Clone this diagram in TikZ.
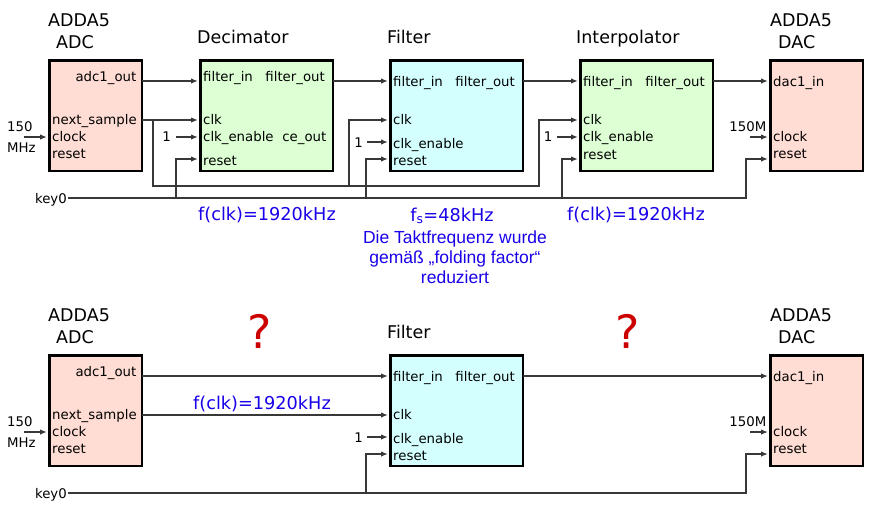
\documentclass[tikz,border=0pt]{standalone}
\usepackage{fontspec}
\setmainfont{DejaVu Sans}
\newfontfamily\libsans{Liberation Sans}
\usetikzlibrary{arrows.meta}
\definecolor{salmon}{RGB}{255,221,212}
\definecolor{lgreen}{RGB}{221,255,212}
\definecolor{lcyan}{RGB}{212,255,255}
\definecolor{wirec}{RGB}{56,56,56}
\definecolor{noteblue}{RGB}{24,0,232}
\definecolor{qred}{RGB}{204,0,0}
\begin{document}
\begin{tikzpicture}[x=1pt,y=-1pt,
  blk/.style={draw=black,line width=2.8pt,anchor=north west,inner sep=0,minimum height=110.2pt},
  smallblk/.style={blk,minimum width=92.2pt},
  bigblk/.style={blk,minimum width=132.2pt},
  lbl/.style={font=\fontsize{13.3}{16}\selectfont,inner sep=0},
  lw/.style={lbl,anchor=base west},
  le/.style={lbl,anchor=base east},
  ttl/.style={font=\fontsize{17.5}{21}\selectfont,inner sep=0,anchor=base west},
  note/.style={font=\fontsize{17.7}{21}\selectfont,inner sep=0,anchor=base,text=noteblue},
  gnote/.style={font=\libsans\fontsize{17.5}{20}\selectfont,inner sep=0,anchor=base,text=noteblue},
  qmark/.style={font=\fontsize{46}{50}\selectfont,inner sep=0,anchor=base,text=qred},
  wire/.style={draw=wirec,line width=1.4pt},
  arr/.style={wire,-{Latex[length=7pt,width=5.5pt]}}]
\useasboundingbox (0,0) rectangle (872,504);

% ================= TOP ROW =================
\node[smallblk,fill=salmon] (adc) at (48.4,59.4) {};
\node[bigblk,fill=lgreen] (dec) at (199.4,59.4) {};
\node[bigblk,fill=lcyan] (fil) at (389.4,59.4) {};
\node[bigblk,fill=lgreen] (int) at (579.4,59.4) {};
\node[smallblk,fill=salmon] (dac) at (769.4,59.4) {};

% titles
\node[ttl] (t1) at (48,26) {ADDA5};
\node[ttl] (t2) at (56,48) {ADC};
\node[ttl] (t3) at (197,43) {Decimator};
\node[ttl] (t4) at (387,43) {Filter};
\node[ttl] (t5) at (576,43) {Interpolator};
\node[ttl] (t6) at (770,26) {ADDA5};
\node[ttl] (t7) at (778,48) {DAC};

% ADC labels
\node[le] (a1) at (136.5,81) {adc1\_out};
\node[lw] (a2) at (52,124.5) {next\_sample};
\node[lw] (a3) at (52,141.5) {clock};
\node[lw] (a4) at (52,158) {reset};
\node[lw] (a5) at (7,131) {150};
\node[lw] (a6) at (7,152) {MHz};
\node[le] (k0) at (67,203) {key0};

% Decimator labels
\node[lw] (d1) at (203,81.5) {filter\_in};
\node[le] (d2) at (325,81.5) {filter\_out};
\node[lw] (d3) at (203,124) {clk};
\node[lw] (d4) at (203,141.7) {clk\_enable};
\node[le] (d5) at (326.5,141.7) {ce\_out};
\node[lw] (d6) at (203,165) {reset};
\node[le] (one1) at (171,141.5) {1};

% Filter labels
\node[lw] (f1) at (393,86.5) {filter\_in};
\node[le] (f2) at (515,86.5) {filter\_out};
\node[lw] (f3) at (393,124) {clk};
\node[lw] (f4) at (393,148) {clk\_enable};
\node[lw] (f5) at (393,165) {reset};
\node[le] (one2) at (363,147.5) {1};

% Interpolator labels
\node[lw] (i1) at (583,86.5) {filter\_in};
\node[le] (i2) at (705,86.5) {filter\_out};
\node[lw] (i3) at (583,124) {clk};
\node[lw] (i4) at (583,141.7) {clk\_enable};
\node[lw] (i5) at (583,159) {reset};
\node[le] (one3) at (552.5,141.5) {1};

% DAC labels
\node[lw] (c1) at (773,86) {dac1\_in};
\node[lw] (c2) at (773,141.7) {clock};
\node[lw] (c3) at (773,158.3) {reset};
\node[le] (c4) at (766.5,131) {150M};

% ports (top)
\coordinate (adcOut) at (142,81);
\coordinate (adcNs) at (142,120);
\coordinate (adcClk) at (47,137);
\coordinate (adcSrc) at (24,137);
\coordinate (decIn) at (198,81);
\coordinate (decClk) at (198,120);
\coordinate (decCe) at (198,137);
\coordinate (decRst) at (198,159);
\coordinate (decOut) at (333,81);
\coordinate (filIn) at (388,81);
\coordinate (filClk) at (388,120);
\coordinate (filCe) at (388,142);
\coordinate (filRst) at (388,159);
\coordinate (filOut) at (523,81);
\coordinate (intIn) at (578,81);
\coordinate (intClk) at (578,120);
\coordinate (intCe) at (578,137);
\coordinate (intRst) at (578,159);
\coordinate (intOut) at (713,81);
\coordinate (dacIn) at (768,81);
\coordinate (dacClk) at (768,137);
\coordinate (dacRst) at (768,159);
\coordinate (dacSrc) at (750,137);
\coordinate (o1) at (176,137);
\coordinate (o2) at (367,142);
\coordinate (o3) at (557,137);
\coordinate (jn) at (153,120);
\coordinate (b1) at (153,186);
\coordinate (b2) at (349,186);
\coordinate (b3) at (539,186);
\coordinate (kS) at (68,198);
\coordinate (k1) at (176,198);
\coordinate (k2) at (366,198);
\coordinate (k3) at (562,198);
\coordinate (k4) at (746,198);

% wires (top)
\draw[arr] (adcSrc) -- (adcClk);
\draw[arr] (adcOut) -- (decIn);
\draw[arr] (adcNs) -- (decClk);
\draw[arr] (decOut) -- (filIn);
\draw[arr] (filOut) -- (intIn);
\draw[arr] (intOut) -- (dacIn);
\draw[arr] (o1) -- (decCe);
\draw[arr] (o2) -- (filCe);
\draw[arr] (o3) -- (intCe);
\draw[arr] (dacSrc) -- (dacClk);
\draw[arr] (jn) -- (b1) -- (b3) |- (intClk);
\draw[arr] (b2) |- (filClk);
\draw[arr] (kS) -- (k4) |- (dacRst);
\draw[arr] (k1) |- (decRst);
\draw[arr] (k2) |- (filRst);
\draw[arr] (k3) |- (intRst);

% notes
\node[note] (n1) at (267,220) {f(clk)=1920kHz};
\node[note] (n2) at (452,221) {f\textsubscript{s}=48kHz};
\node[note] (n3) at (636,220) {f(clk)=1920kHz};
\node[gnote] (g1) at (455,243) {Die Taktfrequenz wurde};
\node[gnote] (g2) at (455,263) {gemäß „folding factor“};
\node[gnote] (g3) at (455,283) {reduziert};

% ================= BOTTOM ROW =================
\node[smallblk,fill=salmon] (badc) at (48.4,354.4) {};
\node[bigblk,fill=lcyan] (bfil) at (389.4,354.4) {};
\node[smallblk,fill=salmon] (bdac) at (769.4,354.4) {};

\node[ttl] (bt1) at (48,321) {ADDA5};
\node[ttl] (bt2) at (56,343) {ADC};
\node[ttl] (bt4) at (387,338) {Filter};
\node[ttl] (bt6) at (770,321) {ADDA5};
\node[ttl] (bt7) at (778,343) {DAC};
\node[qmark] (q1) at (259.5,348) {?};
\node[qmark] (q2) at (627.5,348) {?};

\node[le] (ba1) at (136.5,376) {adc1\_out};
\node[lw] (ba2) at (52,419.5) {next\_sample};
\node[lw] (ba3) at (52,436.5) {clock};
\node[lw] (ba4) at (52,453) {reset};
\node[lw] (ba5) at (7,426) {150};
\node[lw] (ba6) at (7,447) {MHz};
\node[le] (bk0) at (67,498) {key0};

\node[lw] (bf1) at (393,381.5) {filter\_in};
\node[le] (bf2) at (515,381.5) {filter\_out};
\node[lw] (bf3) at (393,419) {clk};
\node[lw] (bf4) at (393,443) {clk\_enable};
\node[lw] (bf5) at (393,460) {reset};
\node[le] (bone) at (363,442.5) {1};

\node[lw] (bc1) at (773,381) {dac1\_in};
\node[lw] (bc2) at (773,436.7) {clock};
\node[lw] (bc3) at (773,453.3) {reset};
\node[le] (bc4) at (766.5,426) {150M};

\node[note] (bn1) at (262,409) {f(clk)=1920kHz};

\coordinate (bAdcOut) at (142,376);
\coordinate (bAdcNs) at (142,415);
\coordinate (bAdcClk) at (47,432);
\coordinate (bAdcSrc) at (24,432);
\coordinate (bFilIn) at (388,376);
\coordinate (bFilClk) at (388,415);
\coordinate (bFilCe) at (388,437);
\coordinate (bFilRst) at (388,454);
\coordinate (bFilOut) at (523,376);
\coordinate (bDacIn) at (768,376);
\coordinate (bDacClk) at (768,432);
\coordinate (bDacRst) at (768,454);
\coordinate (bDacSrc) at (750,432);
\coordinate (bo) at (367,437);
\coordinate (bkS) at (68,493);
\coordinate (bk2) at (366,493);
\coordinate (bk4) at (746,493);

\draw[arr] (bAdcSrc) -- (bAdcClk);
\draw[arr] (bAdcOut) -- (bFilIn);
\draw[arr] (bAdcNs) -- (bFilClk);
\draw[arr] (bo) -- (bFilCe);
\draw[arr] (bFilOut) -- (bDacIn);
\draw[arr] (bDacSrc) -- (bDacClk);
\draw[arr] (bkS) -- (bk4) |- (bDacRst);
\draw[arr] (bk2) |- (bFilRst);
\end{tikzpicture}
\end{document}
